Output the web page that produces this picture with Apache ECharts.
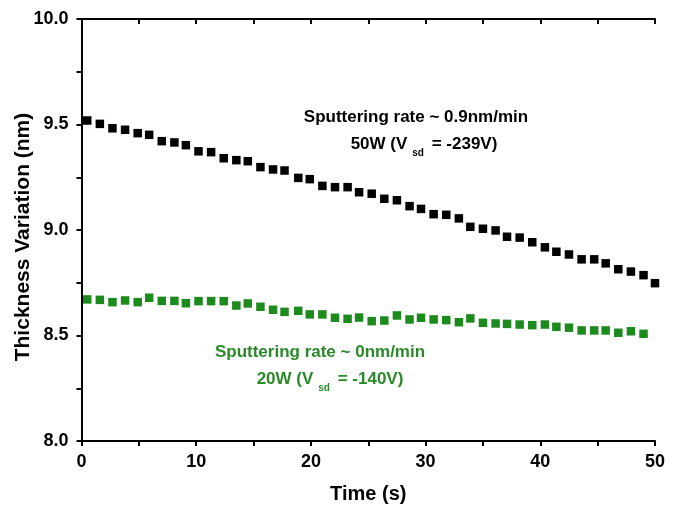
<!DOCTYPE html>
<html>
<head>
<meta charset="utf-8">
<script src="https://cdn.jsdelivr.net/npm/echarts@6/dist/echarts.min.js"></script>
<style>html,body{margin:0;padding:0;background:#fff;}#c{width:675px;height:509px;}</style>
</head>
<body>
<div id="c"></div>
<script>
const times = [0.5,1.6,2.7,3.8,4.9,5.9,7.0,8.1,9.1,10.2,11.3,12.4,13.5,14.5,15.6,16.7,17.7,18.9,19.9,21.0,22.1,23.2,24.2,25.3,26.4,27.5,28.6,29.6,30.7,31.8,32.9,33.9,35.0,36.1,37.1,38.2,39.3,40.4,41.4,42.5,43.6,44.7,45.7,46.8,47.9,49.0,50.0];
const black50W = [9.519,9.503,9.482,9.475,9.459,9.451,9.421,9.415,9.402,9.373,9.369,9.340,9.331,9.326,9.298,9.287,9.282,9.247,9.241,9.209,9.203,9.203,9.179,9.172,9.148,9.141,9.113,9.100,9.075,9.072,9.055,9.015,9.006,8.998,8.968,8.964,8.942,8.918,8.897,8.884,8.861,8.861,8.842,8.814,8.803,8.786,8.748];
const green20W = [8.671,8.669,8.658,8.666,8.658,8.679,8.664,8.664,8.653,8.663,8.663,8.663,8.642,8.652,8.636,8.622,8.612,8.617,8.600,8.600,8.584,8.579,8.585,8.568,8.571,8.595,8.576,8.584,8.576,8.573,8.563,8.581,8.560,8.557,8.555,8.552,8.549,8.552,8.541,8.537,8.524,8.524,8.524,8.513,8.520,8.508];
const xTicks = [0,10,20,30,40,50];
const yTicks = [8.0,8.5,9.0,9.5,10.0];

const FONT = 'Liberation Sans, Arial, sans-serif';
const GREEN = '#1d8a1d';
const GREEN_TEXT = '#2a8a2a';
const chart = echarts.init(document.getElementById('c'), null, {renderer:'canvas'});

const axisCommon = {
  axisLine:{show:true, lineStyle:{color:'#000', width:2}},
  splitLine:{show:false},
  minorSplitLine:{show:false}
};

chart.setOption({
  animation:false,
  backgroundColor:'#fff',
  grid:{left:81.5, right:20, top:19, bottom:68, containLabel:false, outerBoundsMode:'none'},
  xAxis:[
    Object.assign({}, axisCommon, {
      type:'value', min:0, max:50, interval:10, position:'bottom',
      axisTick:{show:true, inside:false, length:5, lineStyle:{color:'#000', width:2}},
      minorTick:{show:true, splitNumber:2, length:5, lineStyle:{color:'#000', width:2}},
      axisLabel:{color:'#000', fontFamily:FONT, fontWeight:'bold', fontSize:18, margin:12,
        formatter:v => xTicks.includes(v) ? String(v) : ''},
      name:'Time (s)', nameLocation:'middle', nameGap:43, nameMoveOverlap:false,
      nameTextStyle:{color:'#000', fontFamily:FONT, fontWeight:'bold', fontSize:20}
    }),
    Object.assign({}, axisCommon, {
      type:'value', min:0, max:50, interval:10, position:'top',
      axisTick:{show:true, inside:true, length:5, lineStyle:{color:'#000', width:2}},
      minorTick:{show:true, splitNumber:2, length:5, lineStyle:{color:'#000', width:2}},
      axisLabel:{show:false}
    })
  ],
  yAxis:[
    Object.assign({}, axisCommon, {
      type:'value', min:8, max:10, interval:0.5, position:'left',
      axisTick:{show:true, inside:false, length:5, lineStyle:{color:'#000', width:2}},
      minorTick:{show:true, splitNumber:2, length:5, lineStyle:{color:'#000', width:2}},
      axisLabel:{color:'#000', fontFamily:FONT, fontWeight:'bold', fontSize:18, margin:13,
        formatter:v => yTicks.some(t => Math.abs(t - v) < 1e-6) ? v.toFixed(1) : ''},
      name:'Thickness Variation (nm)', nameLocation:'middle', nameGap:48, nameRotate:90, nameMoveOverlap:false,
      nameTextStyle:{color:'#000', fontFamily:FONT, fontWeight:'bold', fontSize:21, padding:[0,14,0,0]}
    }),
    Object.assign({}, axisCommon, {
      type:'value', min:8, max:10, interval:0.5, position:'right',
      axisTick:{show:true, inside:true, length:5, lineStyle:{color:'#000', width:2}},
      minorTick:{show:true, splitNumber:2, length:5, lineStyle:{color:'#000', width:2}},
      axisLabel:{show:false}
    })
  ],
  series:[
    {type:'scatter', name:'50W', xAxisIndex:0, yAxisIndex:0, symbol:'rect', symbolSize:8.5,
     itemStyle:{color:'#000', opacity:1}, data: times.map((t,i)=>[t, black50W[i]])},
    {type:'scatter', name:'20W', xAxisIndex:0, yAxisIndex:0, symbol:'rect', symbolSize:8.5,
     itemStyle:{color:GREEN, opacity:1}, data: green20W.map((v,i)=>[times[i], v])}
  ],
  graphic:[
    {type:'text', x:416, y:117, style:{text:'Sputtering rate ~ 0.9nm/min', fill:'#000', font:'bold 17px '+FONT, textAlign:'center', textVerticalAlign:'middle'}},
    {type:'text', x:424, y:147, style:{
      text:'{m|50W (V}{s|sd}{m| = -239V)}', textAlign:'center', textVerticalAlign:'middle',
      rich:{m:{fill:'#000', font:'bold 17px '+FONT, lineHeight:22, verticalAlign:'top'},
            s:{fill:'#000', font:'bold 10px '+FONT, lineHeight:22, verticalAlign:'bottom', padding:[0,3,0,5]}}}},
    {type:'text', x:320, y:352, style:{text:'Sputtering rate ~ 0nm/min', fill:GREEN_TEXT, font:'bold 17px '+FONT, textAlign:'center', textVerticalAlign:'middle'}},
    {type:'text', x:330, y:382, style:{
      text:'{m|20W (V}{s|sd}{m| = -140V)}', textAlign:'center', textVerticalAlign:'middle',
      rich:{m:{fill:GREEN_TEXT, font:'bold 17px '+FONT, lineHeight:22, verticalAlign:'top'},
            s:{fill:GREEN_TEXT, font:'bold 10px '+FONT, lineHeight:22, verticalAlign:'bottom', padding:[0,3,0,5]}}}}
  ]
});
</script>
</body>
</html>
